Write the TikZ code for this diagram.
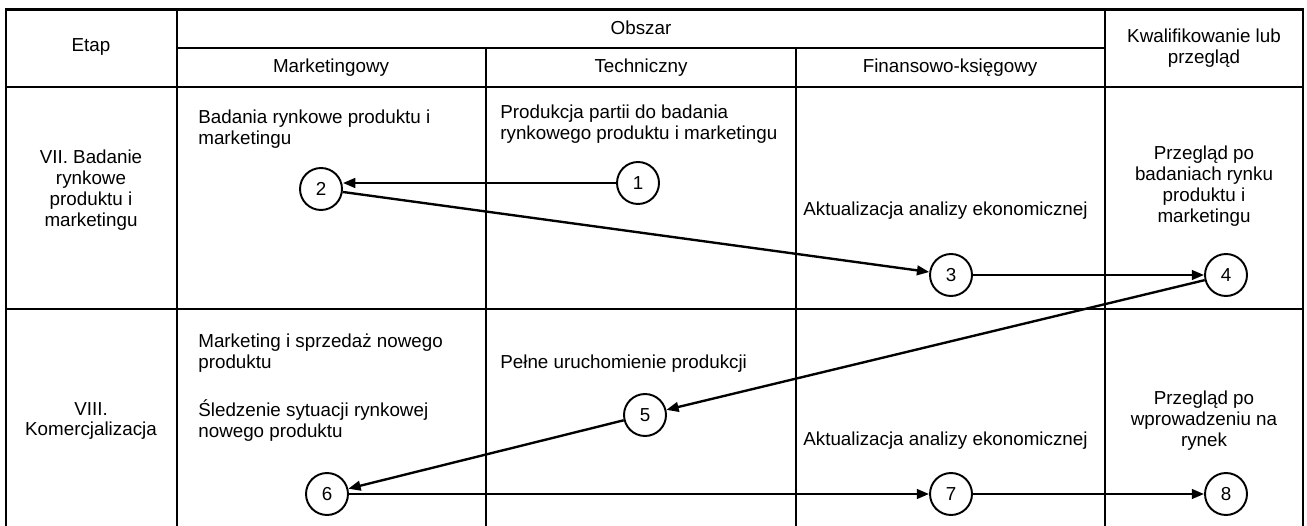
\documentclass[tikz,border=0pt]{standalone}
\usepackage{fontspec}
\setmainfont{Liberation Sans}
\usetikzlibrary{arrows.meta, positioning}

\begin{document}
\begin{tikzpicture}[
        x=0.02cm, y=-0.02cm,
        font=\fontsize{10.7}{11.9}\selectfont,
        grid/.style={line width=1.35pt},
        stepnode/.style={circle, draw=black, line width=1.1pt, minimum size=0.84cm, inner sep=0pt},
        cell/.style={anchor=north west, align=left, inner sep=0pt},
        headcell/.style={align=center, inner sep=0pt},
        link/.style={-{Triangle[length=7pt,width=5.5pt]}, line width=1.35pt}
    ]
    \useasboundingbox (0,0) rectangle (1307,526);

    % Table
    \draw[grid] (6,526) -- (6,9.5) -- (1303,9.5) -- (1303,526);
    \draw[grid] (177,9.5) -- (177,526);
    \draw[grid] (1105,9.5) -- (1105,526);
    \draw[grid] (177,48) -- (1105,48);
    \draw[grid] (486,48) -- (486,526);
    \draw[grid] (796,48) -- (796,526);
    \draw[grid] (6,87) -- (1303,87);
    \draw[grid] (6,309) -- (1303,309);

    % Header
    \node[headcell] (etap) at (91,47) {Etap};
    \node[headcell] (obszar) at (641,28) {Obszar};
    \node[headcell] (mark) at (331,68) {Marketingowy};
    \node[headcell] (tech) at (641,68) {Techniczny};
    \node[headcell] (fin) at (950,68) {Finansowo-księgowy};
    \node[headcell] (kwal) at (1204,48) {Kwalifikowanie lub\\przegląd};

    % Row VII
    \node[headcell] (etap7) at (91,190) {VII. Badanie\\rynkowe\\produktu i\\marketingu};
    \node[cell] (mark7) at (198,110) {Badania rynkowe produktu i\\marketingu};
    \node[cell] (tech7) at (500,105) {Produkcja partii do badania\\rynkowego produktu i marketingu};
    \node[cell] (fin7) at (803,202) {Aktualizacja analizy ekonomicznej};
    \node[headcell] (kwal7) at (1204,186) {Przegląd po\\badaniach rynku\\produktu i\\marketingu};

    % Row VIII
    \node[headcell] (etap8) at (91,421) {VIII.\\Komercjalizacja};
    \node[cell] (mark8a) at (198,334) {Marketing i sprzedaż nowego\\produktu};
    \node[cell] (mark8b) at (198,399) {Śledzenie sytuacji rynkowej\\nowego produktu};
    \node[cell] (tech8) at (500,355) {Pełne uruchomienie produkcji};
    \node[cell] (fin8) at (803,432) {Aktualizacja analizy ekonomicznej};
    \node[headcell] (kwal8) at (1204,421) {Przegląd po\\wprowadzeniu na\\rynek};

    % Steps
    \node[stepnode] (c1) at (638,183) {1};
    \node[stepnode] (c2) at (321,189) {2};
    \node[stepnode] (c3) at (951,275) {3};
    \node[stepnode] (c4) at (1226,275) {4};
    \node[stepnode] (c5) at (645,415) {5};
    \node[stepnode] (c6) at (327,494) {6};
    \node[stepnode] (c7) at (951,494) {7};
    \node[stepnode] (c8) at (1226,494) {8};

    % Edges
    \draw[link] (c1.west) -- (c1.west -| c2.east);
    \draw[link] (c2) -- (c3);
    \draw[link] (c3) -- (c4);
    \draw[link] (c4) -- (c5);
    \draw[link] (c5) -- (c6);
    \draw[link] (c6) -- (c7);
    \draw[link] (c7) -- (c8);

\end{tikzpicture}
\end{document}
